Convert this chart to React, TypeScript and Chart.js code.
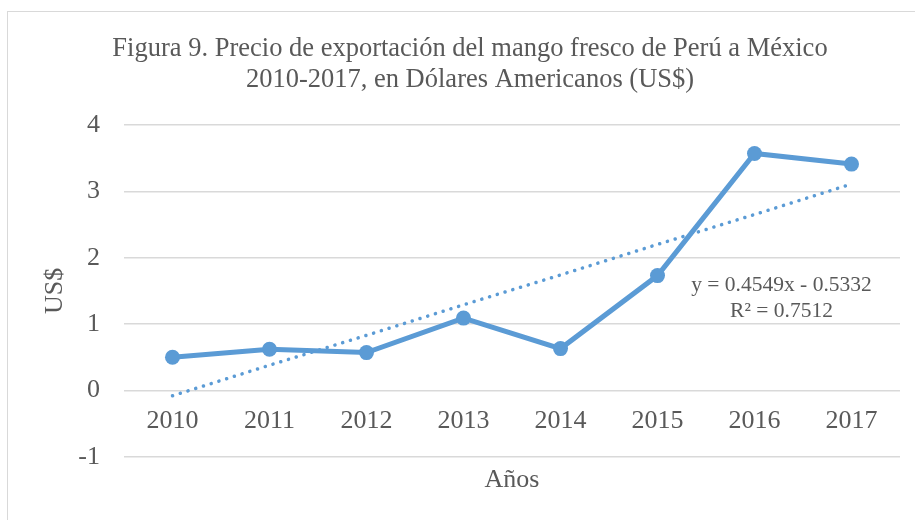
import React, { useEffect, useRef } from "react";
import { Chart, registerables } from "chart.js";

Chart.register(...registerables);

const years = ["2010", "2011", "2012", "2013", "2014", "2015", "2016", "2017"];
const prices = [0.5, 0.62, 0.57, 1.09, 0.63, 1.73, 3.57, 3.41];
const trend = [-0.08, 0.38, 0.83, 1.29, 1.74, 2.2, 2.65, 3.11];
const titleLines = [
  "Figura 9. Precio de exportación del mango fresco de Perú a México",
  "2010-2017, en Dólares Americanos (US$)",
];
const eqLines = ["y = 0.4549x - 0.5332", "R² = 0.7512"];
const yMin = -1;
const yMax = 4;

const SERIF = "'Liberation Serif', 'Times New Roman', serif";
const TXT = "#595959";
const BLUE = "#5b9bd5";
const GRID = "#d9d9d9";

const eqPlugin = {
  id: "eqLabel",
  afterDatasetsDraw(chart: any) {
    const { ctx, scales } = chart;
    const x = scales.x.getPixelForValue(6) + 27;
    const y = scales.y.getPixelForValue(1.59);
    ctx.save();
    ctx.font = `21.5px ${SERIF}`;
    ctx.fillStyle = TXT;
    ctx.textAlign = "center";
    ctx.textBaseline = "middle";
    ctx.fillText(eqLines[0], x, y);
    ctx.fillText(eqLines[1], x, y + 26);
    ctx.restore();
  },
};

export default function App() {
  const ref = useRef<HTMLCanvasElement>(null);
  useEffect(() => {
    const chart = new Chart(ref.current!, {
      type: "line",
      data: {
        labels: years,
        datasets: [
          {
            data: prices,
            borderColor: BLUE,
            backgroundColor: BLUE,
            borderWidth: 5,
            pointRadius: 7.5,
            pointHoverRadius: 7.5,
            pointBackgroundColor: BLUE,
            pointBorderWidth: 0,
            tension: 0,
          },
          {
            data: trend,
            borderColor: BLUE,
            borderWidth: 3.5,
            borderDash: [0.1, 8],
            borderCapStyle: "round",
            pointRadius: 0,
            tension: 0,
          },
        ],
      },
      options: {
        responsive: false,
        animation: false,
        layout: { padding: { left: 40, right: 15, top: 34, bottom: 24 } },
        plugins: {
          legend: { display: false },
          tooltip: { enabled: false },
          title: {
            display: true,
            text: titleLines,
            color: TXT,
            font: { family: SERIF, size: 26.5, weight: "normal", lineHeight: 1.15 },
            padding: { top: 0, bottom: 30 },
          },
        },
        scales: {
          x: {
            type: "category",
            position: { y: 0 } as any,
            offset: true,
            grid: { display: false },
            border: { display: false },
            ticks: {
              color: TXT,
              font: { family: SERIF, size: 26 },
              padding: 7,
              maxRotation: 0,
            },
          },
          x2: {
            type: "category",
            position: "bottom",
            offset: true,
            grid: { display: false },
            border: { display: false },
            ticks: { display: false },
            title: {
              display: true,
              text: "Años",
              color: TXT,
              font: { family: SERIF, size: 26 },
              padding: { top: 0, bottom: 0 },
            },
          },
          y: {
            min: yMin,
            max: yMax,
            ticks: {
              stepSize: 1,
              color: TXT,
              font: { family: SERIF, size: 26 },
              padding: 24,
            },
            grid: { color: GRID, lineWidth: 1.5, drawTicks: false },
            border: { display: false },
            title: {
              display: true,
              text: "US$",
              color: TXT,
              font: { family: SERIF, size: 26 },
              padding: { top: 0, bottom: 4 },
            },
            afterFit: (s: any) => {
              s.width = 84;
            },
          },
        },
      },
      plugins: [eqPlugin],
    });
    return () => chart.destroy();
  }, []);
  return (
    <div style={{ position: "absolute", left: 0, top: 0, width: 915, height: 520, background: "#fff" }}>
      <div
        style={{
          position: "absolute",
          left: 7,
          top: 11,
          width: 1000,
          height: 600,
          border: "1px solid #d9d9d9",
        }}
      />
      <canvas ref={ref} width={915} height={520} style={{ position: "absolute", left: 0, top: 0 }} />
    </div>
  );
}
